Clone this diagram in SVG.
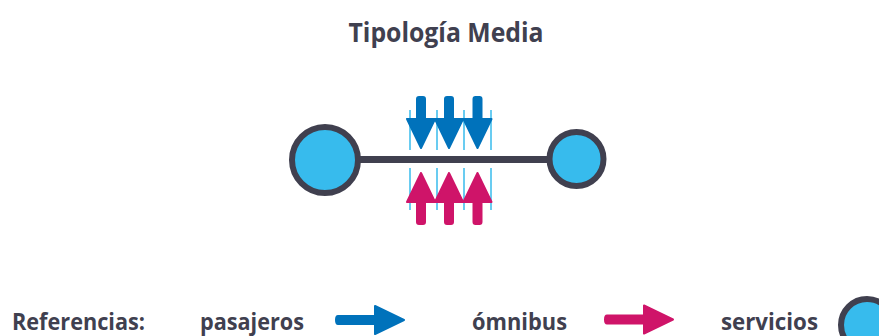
<svg xmlns="http://www.w3.org/2000/svg" width="879" height="336" viewBox="0 0 879 336">
  <style>
    .txt { font-family: "Open Sans", "Liberation Sans", sans-serif; font-weight: 700; fill: #40404f; }
    .node { fill: #37bbed; stroke: #40404f; stroke-width: 6; }
    .guide { stroke: #37bbed; stroke-width: 1.5; }
    .pax { fill: #0072bb; stroke: #0072bb; stroke-width: 2; stroke-linejoin: round; }
    .bus { fill: #cf1469; stroke: #cf1469; stroke-width: 2; stroke-linejoin: round; }
  </style>
  <defs>
    <!-- arrow pointing down, origin at shaft centre top -->
    <path id="arrowDown" d="M -4 0 Q -4 -2 -2 -2 L 2 -2 Q 4 -2 4 0 L 4 20 L 14 20 L 0 49 L -14 20 L -4 20 Z"/>
    <!-- arrow pointing right, origin at shaft centre left -->
    <path id="arrowRight" d="M 0 -4 L 37 -4 L 37 -14 L 66 0 L 37 14 L 37 4 L 0 4 Q -2 4 -2 0 Q -2 -4 0 -4 Z"/>
  </defs>

  <rect width="879" height="336" fill="#ffffff"/>

  <text class="txt" x="446" y="41.5" font-size="26" text-anchor="middle" textLength="195" lengthAdjust="spacingAndGlyphs">Tipología Media</text>

  <!-- link between the two services -->
  <g id="connectors">
    <line x1="358" y1="159.5" x2="552" y2="159.5" stroke="#40404f" stroke-width="7"/>
  </g>

  <!-- frequency guides -->
  <g id="guides" class="guide">
    <line x1="410" y1="110" x2="410" y2="150"/>
    <line x1="437" y1="110" x2="437" y2="150"/>
    <line x1="464" y1="110" x2="464" y2="150"/>
    <line x1="491" y1="110" x2="491" y2="150"/>
    <line x1="410" y1="168" x2="410" y2="210"/>
    <line x1="437" y1="168" x2="437" y2="210"/>
    <line x1="464" y1="168" x2="464" y2="210"/>
    <line x1="491" y1="168" x2="491" y2="210"/>
  </g>

  <!-- passenger flow -->
  <g id="pasajeros-flow" class="pax">
    <use href="#arrowDown" x="421" y="99"/>
    <use href="#arrowDown" x="449" y="99"/>
    <use href="#arrowDown" x="477.5" y="99"/>
  </g>

  <!-- bus flow -->
  <g id="omnibus-flow" class="bus">
    <use href="#arrowDown" transform="translate(421 222) scale(1 -1)"/>
    <use href="#arrowDown" transform="translate(449 222) scale(1 -1)"/>
    <use href="#arrowDown" transform="translate(477.5 222) scale(1 -1)"/>
  </g>

  <g id="servicio-a">
    <circle class="node" cx="325" cy="160" r="33"/>
  </g>
  <g id="servicio-b">
    <circle class="node" cx="576.5" cy="159" r="27"/>
  </g>

  <!-- legend -->
  <g id="legend">
    <text class="txt" x="12" y="330" font-size="23" textLength="133" lengthAdjust="spacingAndGlyphs">Referencias:</text>
    <text class="txt" x="200" y="330" font-size="23" textLength="104" lengthAdjust="spacingAndGlyphs">pasajeros</text>
    <use href="#arrowRight" class="pax" x="338" y="320"/>
    <text class="txt" x="472" y="330" font-size="23" textLength="95" lengthAdjust="spacingAndGlyphs">ómnibus</text>
    <use href="#arrowRight" class="bus" x="607" y="319.5"/>
    <text class="txt" x="721" y="330" font-size="23" textLength="97" lengthAdjust="spacingAndGlyphs">servicios</text>
    <circle class="node" cx="867" cy="325" r="26"/>
  </g>
</svg>
